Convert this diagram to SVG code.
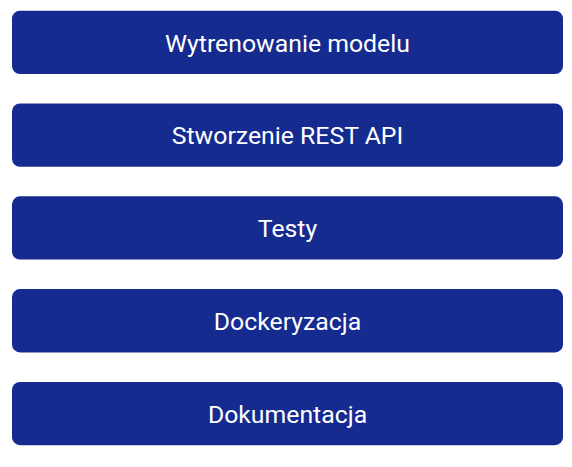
<svg xmlns="http://www.w3.org/2000/svg" width="572" height="467" viewBox="0 0 572 467">
<style>
.box{fill:#162b90;}
.t{font-family:Roboto,"Noto Sans",sans-serif;font-size:24.8px;fill:#ffffff;text-anchor:middle;dominant-baseline:central;}
</style>
<rect width="572" height="467" fill="#ffffff"/>
<g id="n1"><rect class="box" x="12" y="10.7" width="551" height="63.3" rx="8"/><text class="t" x="287.5" y="43">Wytrenowanie modelu</text></g>
<g id="n2"><rect class="box" x="12" y="103.5" width="551" height="63.3" rx="8"/><text class="t" x="287.5" y="135.5">Stworzenie REST API</text></g>
<g id="n3"><rect class="box" x="12" y="196.3" width="551" height="63.3" rx="8"/><text class="t" x="287.5" y="228.5">Testy</text></g>
<g id="n4"><rect class="box" x="12" y="289.1" width="551" height="63.3" rx="8"/><text class="t" x="287.5" y="321.5">Dockeryzacja</text></g>
<g id="n5"><rect class="box" x="12" y="381.9" width="551" height="63.3" rx="8"/><text class="t" x="287.5" y="414">Dokumentacja</text></g>
<g id="connectors"></g>
</svg>
